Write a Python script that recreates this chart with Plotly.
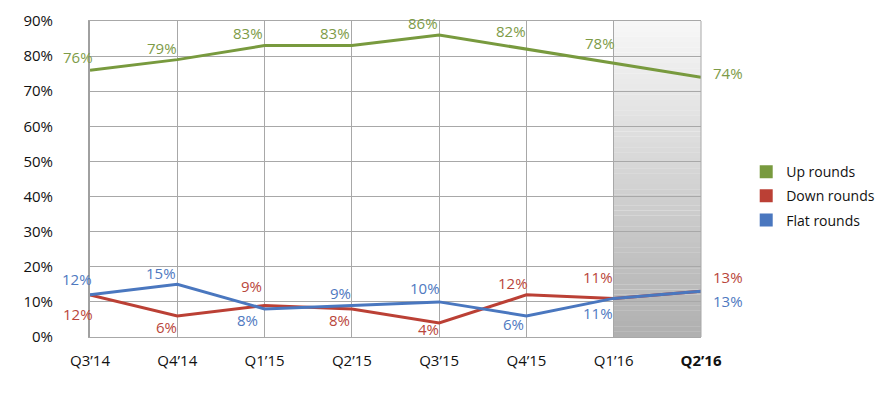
import plotly.graph_objects as go

categories = ["Q3\u201914", "Q4\u201914", "Q1\u201915", "Q2\u201915", "Q3\u201915", "Q4\u201915", "Q1\u201916", "Q2\u201916"]
up_rounds = [76, 79, 83, 83, 86, 82, 78, 74]
down_rounds = [12, 6, 9, 8, 4, 12, 11, 13]
flat_rounds = [12, 15, 8, 9, 10, 6, 11, 13]
y_ticks = [0, 10, 20, 30, 40, 50, 60, 70, 80, 90]

# label offsets in pixels (style only)
up_dx = [-12, -15, -17, -17, -16, -15, -14, 27]
up_dy = [13, 12, 13, 13, 12, 18, 20, 4]
down_dx = [-12, -11, -13, -12, -11, -13, -16, 27]
down_dy = [-19, -11, 19, -11, -6, 12, 21, 14]
flat_dx = [-13, -16, -17, -11, -14, -13, -16, 27]
flat_dy = [16, 11, -11, 12, 14, -8, -15, -10]

FONT = "Open Sans"
GREEN, RED, BLUE = "#789a3e", "#bb4035", "#4a77bf"
GREEN_T, RED_T, BLUE_T = "#7d9b47", "#b9463b", "#4f79bf"

xs = list(range(len(categories)))
fig = go.Figure()

series = [
    ("Up rounds", up_rounds, GREEN, GREEN_T, up_dx, up_dy),
    ("Down rounds", down_rounds, RED, RED_T, down_dx, down_dy),
    ("Flat rounds", flat_rounds, BLUE, BLUE_T, flat_dx, flat_dy),
]

annotations = []
for name, vals, col, tcol, dxs, dys in series:
    fig.add_trace(go.Scatter(x=xs, y=vals, mode="lines", name=name,
                             line=dict(color=col, width=3), showlegend=False,
                             hoverinfo="x+y"))
    for i, v in enumerate(vals):
        annotations.append(dict(x=xs[i], y=v, xref="x", yref="y", text=f"{v}%",
                                showarrow=False, xshift=dxs[i], yshift=dys[i],
                                font=dict(family=FONT, size=15, color=tcol)))

for k, (name, vals, col, tcol, dxs, dys) in enumerate(series):
    fig.add_trace(go.Scatter(x=[None], y=[None], mode="markers", name=name,
                             marker=dict(symbol="square", size=13, color=col),
                             legendgroup=f"g{k}", showlegend=True))

# gradient highlight for the last quarter, built as thin strips beneath grid
ymax = y_ticks[-1]
n_strips = 60
top_c = (247, 247, 247)
bot_c = (176, 176, 176)
shapes = []
for s in range(n_strips):
    t = s / (n_strips - 1)
    c = tuple(round(bot_c[j] + (top_c[j] - bot_c[j]) * t) for j in range(3))
    shapes.append(dict(type="rect", xref="x", yref="y", layer="below",
                       x0=xs[-2], x1=xs[-1],
                       y0=ymax * s / n_strips, y1=ymax * (s + 1) / n_strips + 0.05,
                       fillcolor=f"rgb{c}", line=dict(width=0)))

ticktext = list(categories[:-1]) + [f"<b>{categories[-1]}</b>"]

fig.update_layout(
    width=890, height=395,
    margin=dict(l=82, r=197, t=13, b=66, autoexpand=False),
    paper_bgcolor="white", plot_bgcolor="white",
    font=dict(family=FONT, size=15, color="#111111"),
    shapes=shapes,
    annotations=annotations,
    showlegend=True,
    legend=dict(x=1.074, xanchor="left", y=0.446, yanchor="middle",
                font=dict(family=FONT, size=14, color="#111111"),
                tracegroupgap=3, bgcolor="rgba(0,0,0,0)"),
    xaxis=dict(range=[0, len(categories) - 1], tickmode="array", tickvals=xs,
               ticktext=ticktext, showgrid=True, gridcolor="#a8a8a8", gridwidth=1,
               showline=True, linecolor="#a8a8a8", linewidth=1, mirror=True,
               ticks="", ticklabelstandoff=10, zeroline=False, fixedrange=True,
               automargin=False,
               tickfont=dict(family=FONT, size=15, color="#111111")),
    yaxis=dict(range=[0, ymax], tickmode="array", tickvals=y_ticks,
               ticktext=[f"{v}%" for v in y_ticks], showgrid=True,
               gridcolor="#a8a8a8", gridwidth=1, showline=True,
               linecolor="#a0a0a0", linewidth=2, mirror=False,
               ticks="", ticklabelstandoff=32, zeroline=False, fixedrange=True,
               automargin=False,
               tickfont=dict(family=FONT, size=15, color="#111111")),
)

# right border line for the plot area
fig.add_shape(type="line", xref="paper", yref="paper", x0=1, x1=1, y0=0, y1=1,
              line=dict(color="#a8a8a8", width=1), layer="above")

fig.write_html("out.html")
